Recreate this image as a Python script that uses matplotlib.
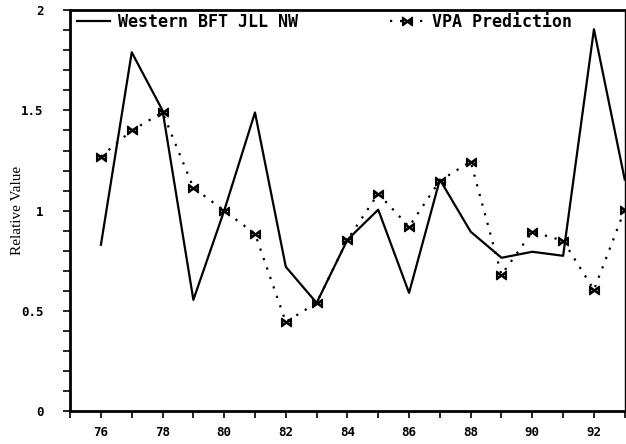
import matplotlib.pyplot as plt
from matplotlib.ticker import MultipleLocator

# Datos
years = list(range(1976, 1994))
western_jll_nw = [0.83, 1.79, 1.50, 0.555, 1.00, 1.49, 0.72, 0.54, 0.855,
                  1.005, 0.59, 1.155, 0.895, 0.765, 0.795, 0.775, 1.905, 1.155]
vpa_prediction = [1.27, 1.40, 1.49, 1.115, 1.00, 0.885, 0.445, 0.54, 0.855,
                  1.085, 0.92, 1.15, 1.245, 0.68, 0.895, 0.85, 0.605, 1.005]
year_ticks = [76, 78, 80, 82, 84, 86, 88, 90, 92]
y_ticks = [0, 0.5, 1, 1.5, 2]
y_tick_labels = ["0", "0.5", "1", "1.5", "2"]

mono = {"family": "DejaVu Sans Mono", "weight": "bold"}

fig = plt.figure(figsize=(6.26, 4.44), dpi=100)
ax = fig.add_axes([0.112, 0.074, 0.886, 0.903])

ax.plot(years, western_jll_nw, color="black", lw=1.6, label="Western BFT JLL NW")
ax.plot(years, vpa_prediction, color="black", lw=1.6, linestyle=(0, (1, 3.5)),
        marker=r"$\bowtie$", markersize=7, label="VPA Prediction")

ax.set_xlim(1975, 1993)
ax.set_ylim(0, 2)
ax.set_xticks([1900 + y for y in year_ticks])
ax.set_xticklabels([str(y) for y in year_ticks], **mono, fontsize=9)
ax.xaxis.set_minor_locator(MultipleLocator(1))
ax.set_yticks(y_ticks)
ax.set_yticklabels(y_tick_labels, **mono, fontsize=9)
ax.yaxis.set_minor_locator(MultipleLocator(0.1))
ax.tick_params(which="both", direction="out", length=5, width=1.2, color="black")
ax.tick_params(axis="y", pad=14)
ax.tick_params(axis="x", pad=6)

for side in ["left", "bottom", "top"]:
    ax.spines[side].set_linewidth(2)
ax.spines["right"].set_linewidth(1)

ax.set_ylabel("Relative Value", family="Liberation Serif", fontsize=11, labelpad=-2)

ax.legend(loc="upper left", bbox_to_anchor=(0.0, 1.01), ncol=2, frameon=False,
          prop={"family": "DejaVu Sans Mono", "weight": "bold", "size": 12},
          handlelength=2, handletextpad=0.5, columnspacing=5.5, borderaxespad=0)

fig.savefig("out.png", dpi=100)
